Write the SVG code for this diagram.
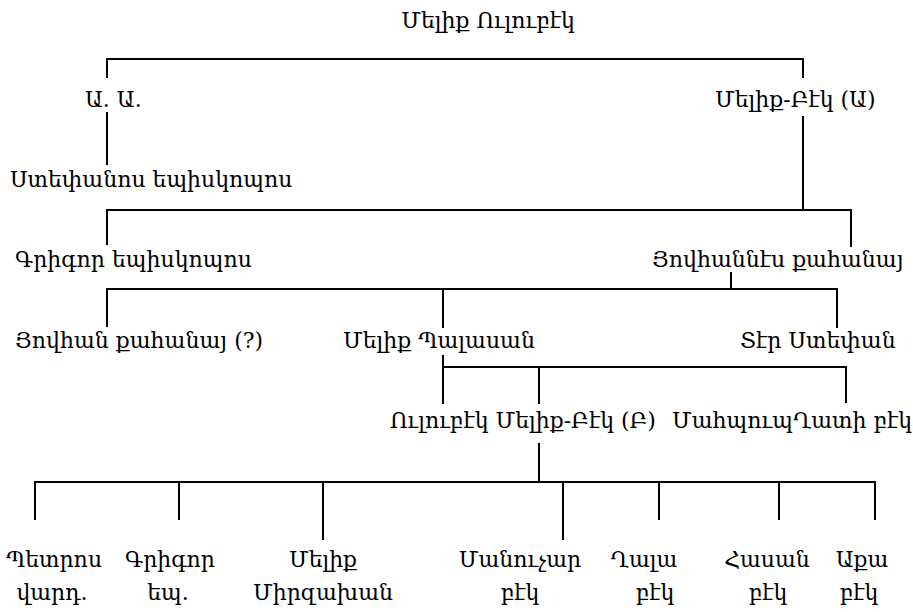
<svg xmlns="http://www.w3.org/2000/svg" width="913" height="612" viewBox="0 0 913 612">
<style>
text{font-family:"DejaVu Serif","Noto Sans",serif;font-size:22px;fill:#000}
.c{text-anchor:middle}
.l{stroke:#000;stroke-width:2;fill:none}
</style>
<rect width="913" height="612" fill="#fff"/>
<g id="connectors">
<path class="l" d="M107 78V59H803V78"/>
<path class="l" d="M107 112V165"/>
<path class="l" d="M803 116V210"/>
<path class="l" d="M107 245V210H851V247"/>
<path class="l" d="M731 272V289"/>
<path class="l" d="M107 327V289H837V328M443 289V328"/>
<path class="l" d="M443 355V404M443 367H846V403M539 367V404"/>
<path class="l" d="M539 443V482"/>
<path class="l" d="M35 520V482H875V520M179 482V520M323 482V540M563 482V540M659 482V520M779 482V520"/>
</g>
<g id="n0"><text x="488" y="28" class="c">Մելիք Ուլուբէկ</text></g>
<g id="n1"><text x="85" y="107">Ա. Ա.</text></g>
<g id="n2"><text x="715" y="107">Մելիք-Բէկ (Ա)</text></g>
<g id="n3"><text x="10" y="187">Ստեփանոս եպիսկոպոս</text></g>
<g id="n4"><text x="15" y="267">Գրիգոր եպիսկոպոս</text></g>
<g id="n5"><text x="652" y="267">Յովհաննէս քահանայ</text></g>
<g id="n6"><text x="15" y="348">Յովհան քահանայ (?)</text></g>
<g id="n7"><text x="343" y="348">Մելիք Պալասան</text></g>
<g id="n8"><text x="740" y="348">Տէր Ստեփան</text></g>
<g id="n9"><text x="390" y="428">Ուլուբէկ Մելիք-Բէկ (Բ)</text></g>
<g id="n10"><text x="672" y="428">ՄահպուպՂատի բէկ</text></g>
<g id="n11"><text x="54" y="567" class="c">Պետրոս</text><text x="52" y="600" class="c">վարդ.</text></g>
<g id="n12"><text x="170" y="567" class="c">Գրիգոր</text><text x="168" y="600" class="c">եպ.</text></g>
<g id="n13"><text x="323" y="567" class="c">Մելիք</text><text x="323" y="600" class="c">Միրզախան</text></g>
<g id="n14"><text x="520" y="567" class="c">Մանուչար</text><text x="520" y="600" class="c">բէկ</text></g>
<g id="n15"><text x="644" y="567" class="c">Ղալա</text><text x="655" y="600" class="c">բէկ</text></g>
<g id="n16"><text x="767" y="567" class="c">Հասան</text><text x="768" y="600" class="c">բէկ</text></g>
<g id="n17"><text x="862" y="567" class="c">Աքա</text><text x="859" y="600" class="c">բէկ</text></g>
</svg>
